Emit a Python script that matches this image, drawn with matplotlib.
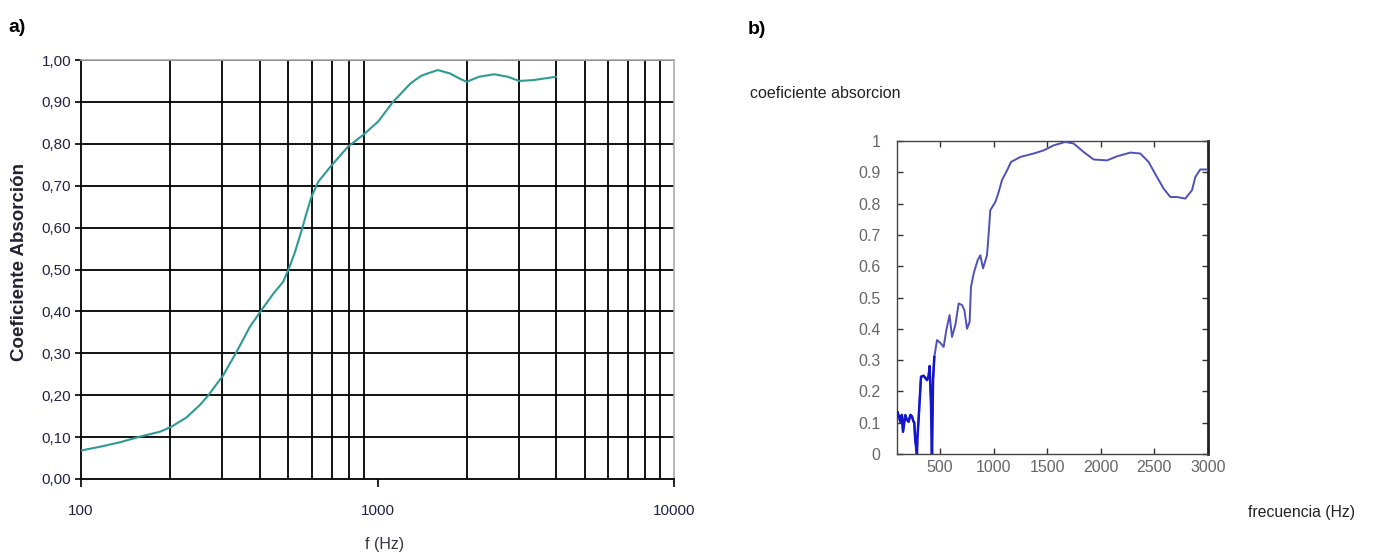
import numpy as np
import matplotlib.pyplot as plt
from matplotlib.ticker import FixedLocator, NullFormatter

# panel a: absorption coefficient vs frequency (log axis)
freq_a = [100, 116, 135, 158, 185, 202, 227, 252, 269, 302, 335, 371, 405, 446, 481, 503,
          527, 555, 576, 599, 632, 693, 795, 894, 1005, 1128, 1292, 1400, 1506, 1598, 1755,
          1900, 2000, 2198, 2475, 2748, 3010, 3350, 4000]
alpha_a = [0.068, 0.077, 0.0875, 0.101, 0.113, 0.125, 0.147, 0.177, 0.20, 0.248, 0.304,
           0.363, 0.402, 0.443, 0.471, 0.503, 0.542, 0.594, 0.634, 0.674, 0.71, 0.745, 0.793,
           0.821, 0.853, 0.90, 0.944, 0.962, 0.970, 0.976, 0.968, 0.955, 0.948, 0.96, 0.966,
           0.96, 0.95, 0.952, 0.96]
yticks_a = [0.0, 0.1, 0.2, 0.3, 0.4, 0.5, 0.6, 0.7, 0.8, 0.9, 1.0]
ylabels_a = ["0,00", "0,10", "0,20", "0,30", "0,40", "0,50", "0,60", "0,70", "0,80", "0,90", "1,00"]

# panel b: measured coefficient vs frequency (linear axis)
freq_b = [100, 103, 118, 131, 145, 156, 177, 192, 208, 225, 240, 252, 261, 270, 286, 290,
          301, 324, 348, 380, 395, 404, 417, 426, 436, 448, 473, 504, 535, 560, 590, 613,
          644, 675, 706, 728, 753, 777, 790, 815, 852, 877, 902, 939, 954, 970, 1017, 1048,
          1079, 1126, 1163, 1250, 1374, 1467, 1560, 1670, 1747, 1840, 1933, 2058, 2151,
          2276, 2369, 2446, 2524, 2586, 2649, 2711, 2788, 2851, 2882, 2928, 3000]
alpha_b = [0.12, 0.135, 0.12, 0.103, 0.125, 0.071, 0.124, 0.11, 0.103, 0.125, 0.12, 0.105,
           0.10, 0.045, 0.0, 0.05, 0.109, 0.247, 0.25, 0.236, 0.25, 0.281, 0.162, 0.0,
           0.236, 0.31, 0.364, 0.355, 0.342, 0.396, 0.444, 0.374, 0.412, 0.481, 0.476,
           0.46, 0.40, 0.422, 0.534, 0.577, 0.619, 0.635, 0.593, 0.635, 0.70, 0.779, 0.805,
           0.837, 0.875, 0.906, 0.933, 0.949, 0.96, 0.97, 0.986, 0.997, 0.992, 0.965, 0.941,
           0.938, 0.951, 0.963, 0.96, 0.933, 0.885, 0.848, 0.821, 0.821, 0.816, 0.843,
           0.885, 0.909, 0.909]
xticks_b = [500, 1000, 1500, 2000, 2500, 3000]
yticks_b = [0, 0.1, 0.2, 0.3, 0.4, 0.5, 0.6, 0.7, 0.8, 0.9, 1]

plt.rcParams['font.family'] = ['Liberation Sans', 'DejaVu Sans']

W, H = 1373, 559
fig = plt.figure(figsize=(W / 100, H / 100), dpi=100)

def box(x0, y0, x1, y1):
    return [x0 / W, 1 - y1 / H, (x1 - x0) / W, (y1 - y0) / H]

# ---- a) ----
ax = fig.add_axes(box(81, 60, 674, 479))
ax.plot(freq_a, alpha_a, color='#2e9a93', lw=1.5, zorder=3)
ax.set_xscale('log')
ax.set_xlim(100, 10000)
ax.set_ylim(0, 1)
ax.xaxis.set_major_locator(FixedLocator([100, 1000, 10000]))
minors = [m * d for d in (100, 1000) for m in range(2, 10)]
ax.xaxis.set_minor_locator(FixedLocator(minors))
ax.xaxis.set_minor_formatter(NullFormatter())
ax.set_xticklabels(["100", "1000", "10000"], fontsize=11, color='#222244')
ax.set_yticks(yticks_a)
ax.set_yticklabels(ylabels_a, fontsize=11, color='#222244')
ax.tick_params(axis='x', which='major', length=6, width=1.2, direction='out', pad=12, color='black')
ax.tick_params(axis='x', which='minor', length=0)
ax.tick_params(axis='y', length=4, width=1.2, direction='out', pad=3)
for x in minors:
    ax.axvline(x, color='black', lw=1.3, zorder=1)
for y in yticks_a[1:]:
    ax.axhline(y, color='black', lw=1.3, zorder=1)
for s in ('left', 'bottom'):
    ax.spines[s].set_color('black')
    ax.spines[s].set_linewidth(1.3)
for s in ('top', 'right'):
    ax.spines[s].set_color('#aaaaaa')
    ax.spines[s].set_linewidth(1.2)
fig.text(20 / W, 1 - 262 / H, "Coeficiente Absorción", rotation=90, ha='center', va='center',
         fontsize=13.5, fontweight='bold', color='#222233')
fig.text(385 / W, 1 - 545 / H, "f (Hz)", ha='center', va='center',
         fontsize=11.5, color='#333344')
fig.text(8 / W, 1 - 27 / H, "a)", ha='left', va='center', fontsize=14, fontweight='bold')

# ---- b) ----
bx = fig.add_axes(box(897, 141, 1208, 454))
fb = np.array(freq_b)
ab = np.array(alpha_b)
low = fb <= 450
bx.plot(fb, ab, color='#5050b8', lw=1.4, zorder=3)
bx.plot(fb[low], ab[low], color='#1515cc', lw=1.8, zorder=4)
bx.set_xlim(100, 3000)
bx.set_ylim(0, 1)
bx.set_xticks(xticks_b)
bx.set_xticklabels([str(v) for v in xticks_b], fontsize=11.5, color='#666666')
bx.set_yticks(yticks_b)
bx.set_yticklabels(["0", "0.1", "0.2", "0.3", "0.4", "0.5", "0.6", "0.7", "0.8", "0.9", "1"],
                   fontsize=11.5, color='#666666')
bx.tick_params(direction='in', length=4, width=1, top=True, right=True, color='#333333')
bx.tick_params(axis='y', pad=12)
bx.tick_params(axis='x', pad=4)
for s in ('left', 'bottom', 'top'):
    bx.spines[s].set_color('#444444')
    bx.spines[s].set_linewidth(1.0)
bx.spines['right'].set_color('#222222')
bx.spines['right'].set_linewidth(2.0)
fig.text(750 / W, 1 - 94 / H, "coeficiente absorcion", ha='left', va='center',
         fontsize=11.5, color='#222222')
fig.text(1248 / W, 1 - 513 / H, "frecuencia (Hz)", ha='left', va='center',
         fontsize=11.3, color='#222222')
fig.text(748 / W, 1 - 30 / H, "b)", ha='left', va='center', fontsize=14, fontweight='bold')

fig.savefig("out.png", dpi=100)
